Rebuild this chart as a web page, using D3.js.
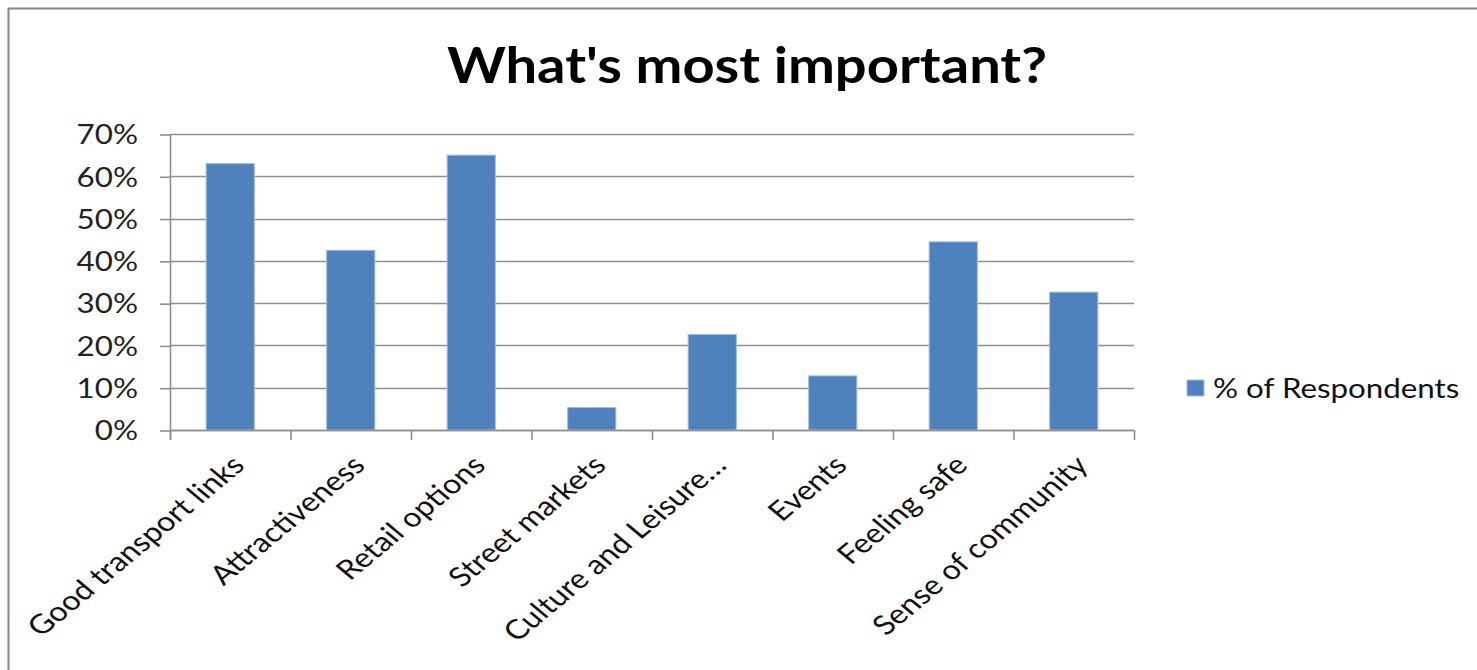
<!DOCTYPE html>
<html>
<head>
<meta charset="utf-8">
<script src="https://cdn.jsdelivr.net/npm/d3@7"></script>
<style>
  html, body { margin: 0; padding: 0; background: #fff; }
  svg { display: block; }
</style>
</head>
<body>
<svg id="chart" width="1477" height="670"></svg>
<script>
// ---- data ----
const categories = [
  "Good transport links",
  "Attractiveness",
  "Retail options",
  "Street markets",
  "Culture and Leisure…",
  "Events",
  "Feeling safe",
  "Sense of community"
];
const values = [0.63, 0.425, 0.65, 0.053, 0.226, 0.128, 0.445, 0.326];
const yTicks = [0, 0.1, 0.2, 0.3, 0.4, 0.5, 0.6, 0.7];
const seriesName = "% of Respondents";
const titleText = "What's most important?";

// ---- layout ----
const W = 1477, H = 670;
const plot = { left: 170, right: 1134, top: 134, bottom: 430 };
const sx = 1.16;               // horizontal stretch of the text in the picture
const sxCat = 1.2;
const fontFamily = "Lato, 'Open Sans', sans-serif";
const barColor = "#4f81bd";
const gridColor = "#8f8f8f";

const svg = d3.select("#chart");

// frame
svg.append("line").attr("x1", 8.5).attr("x2", 8.5).attr("y1", 8).attr("y2", H)
  .attr("stroke", "#868686").attr("stroke-width", 2);
svg.append("line").attr("x1", 8).attr("x2", W).attr("y1", 8.5).attr("y2", 8.5)
  .attr("stroke", "#868686").attr("stroke-width", 2);

// title
svg.append("text")
  .attr("x", 747).attr("y", 83)
  .attr("text-anchor", "middle")
  .attr("font-family", fontFamily)
  .attr("font-weight", "bold")
  .attr("font-size", 50)
  .attr("textLength", 600)
  .attr("lengthAdjust", "spacingAndGlyphs")
  .attr("fill", "#000")
  .text(titleText);

// scales
const x = d3.scaleBand().domain(categories)
  .range([plot.left, plot.right]).paddingInner(0.6).paddingOuter(0.3);
const y = d3.scaleLinear().domain([0, 0.7]).range([plot.bottom, plot.top]);

// gridlines
svg.append("g").selectAll("line").data(yTicks).join("line")
  .attr("x1", plot.left).attr("x2", plot.right)
  .attr("y1", d => Math.round(y(d)) + 0.5).attr("y2", d => Math.round(y(d)) + 0.5)
  .attr("stroke", gridColor).attr("stroke-width", 1.6);

// y axis
const yAxis = svg.append("g").attr("transform", `translate(${plot.left},0)`)
  .call(d3.axisLeft(y).tickValues(yTicks).tickFormat(d3.format(".0%")).tickSize(10).tickPadding(0));
yAxis.select(".domain").remove();
yAxis.append("line").attr("x1", 0.5).attr("x2", 0.5)
  .attr("y1", plot.top).attr("y2", plot.bottom + 10)
  .attr("stroke", gridColor).attr("stroke-width", 1.6);
yAxis.selectAll(".tick line").attr("stroke", gridColor).attr("stroke-width", 1.6)
  .attr("transform", "translate(0,0.5)");
yAxis.selectAll(".tick text")
  .attr("x", 0).attr("dy", "0.36em")
  .attr("transform", `translate(-32,0) scale(${sx},1)`)
  .attr("font-family", fontFamily).attr("font-size", 27).attr("fill", "#222");

// bars
svg.append("g").selectAll("rect").data(categories).join("rect")
  .attr("x", d => x(d))
  .attr("width", x.bandwidth())
  .attr("y", (d, i) => y(values[i]))
  .attr("height", (d, i) => y(0) - y(values[i]))
  .attr("fill", barColor)
  .attr("stroke", "#a3bde0").attr("stroke-width", 1);

// x axis baseline and ticks at category boundaries
const half = (x.step() - x.bandwidth()) / 2;
const boundaries = categories.map(c => x(c) - half).concat([plot.right]);
svg.append("line").attr("x1", plot.left).attr("x2", plot.right)
  .attr("y1", Math.round(y(0)) + 0.5).attr("y2", Math.round(y(0)) + 0.5)
  .attr("stroke", gridColor).attr("stroke-width", 1.6);
svg.append("g").selectAll("line").data(boundaries).join("line")
  .attr("x1", d => d + 0.5).attr("x2", d => d + 0.5)
  .attr("y1", y(0)).attr("y2", y(0) + 10)
  .attr("stroke", gridColor).attr("stroke-width", 1.6);

// category labels (rotated)
svg.append("g").selectAll("text").data(categories).join("text")
  .attr("transform", d => `translate(${x(d) + x.bandwidth() / 2 + 16},${plot.bottom + 37}) scale(${sxCat},1) rotate(-45)`)
  .attr("text-anchor", "end")
  .attr("font-family", fontFamily).attr("font-size", 27).attr("fill", "#111")
  .text(d => d);

// legend
const lg = svg.append("g").attr("transform", "translate(1187,380)");
lg.append("rect").attr("width", 17).attr("height", 16)
  .attr("fill", barColor).attr("stroke", "#a3bde0").attr("stroke-width", 1);
lg.append("text").attr("x", 0).attr("y", 8).attr("dy", "0.36em")
  .attr("transform", `translate(26,0) scale(${sx},1)`)
  .attr("font-family", fontFamily).attr("font-size", 27).attr("fill", "#111")
  .text(seriesName);
</script>
</body>
</html>
